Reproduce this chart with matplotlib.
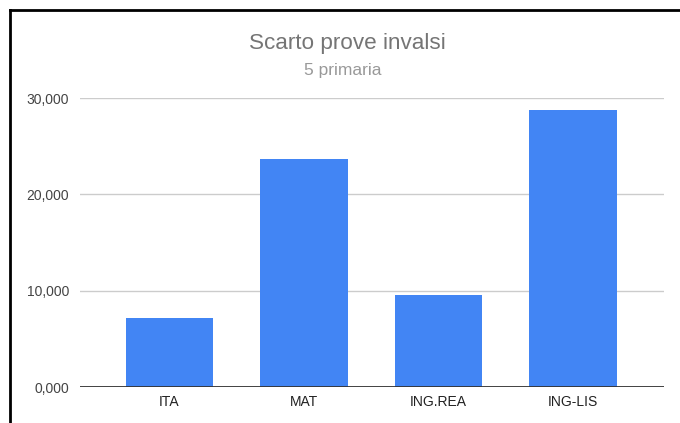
import matplotlib
matplotlib.use("Agg")
import matplotlib.pyplot as plt
from matplotlib.lines import Line2D

plt.rcParams.update({"font.family": ["Liberation Sans", "DejaVu Sans"]})

# dati
categorie = ["ITA", "MAT", "ING.REA", "ING-LIS"]
valori = [7200, 23700, 9500, 28750]
y_ticks = [0, 10000, 20000, 30000]
y_tick_labels = ["0,000", "10,000", "20,000", "30,000"]

fig = plt.figure(figsize=(6.8, 4.23), dpi=100)
ax = fig.add_axes([80 / 680, 1 - 387 / 423, (664 - 80) / 680, (387 - 98) / 423])

x = range(len(categorie))
ax.bar(x, valori, width=0.65, color="#4285F4", zorder=3)

ax.set_xlim(-0.665, 3.675)
ax.set_ylim(0, 30000)
ax.set_yticks(y_ticks)
ax.set_yticklabels(y_tick_labels)
ax.set_xticks(list(x))
ax.set_xticklabels(categorie)

# griglia
for t in y_ticks[1:]:
    ax.axhline(t, color="#cccccc", linewidth=1, zorder=1)
ax.axhline(0, color="#333333", linewidth=1.3, zorder=4)

for s in ax.spines.values():
    s.set_visible(False)
ax.tick_params(axis="both", length=0, labelsize=10)
ax.tick_params(axis="y", pad=8, labelcolor="#444444")
ax.tick_params(axis="x", pad=6, labelcolor="#222222")

# titolo e sottotitolo
fig.text(347 / 680, 1 - 44 / 423, "Scarto prove invalsi", ha="center", va="center",
         fontsize=16.2, color="#757575")
fig.text(343 / 680, 1 - 71 / 423, "5 primaria", ha="center", va="center",
         fontsize=12.5, color="#999999")

# bordo nero (screenshot)
fig.add_artist(Line2D([9.5 / 680, 1.0], [1 - 10.5 / 423, 1 - 10.5 / 423],
                      transform=fig.transFigure, color="black", linewidth=2))
fig.add_artist(Line2D([9.5 / 680, 9.5 / 680], [0, 1 - 10.5 / 423],
                      transform=fig.transFigure, color="black", linewidth=2))

fig.savefig("out.png", dpi=100)
